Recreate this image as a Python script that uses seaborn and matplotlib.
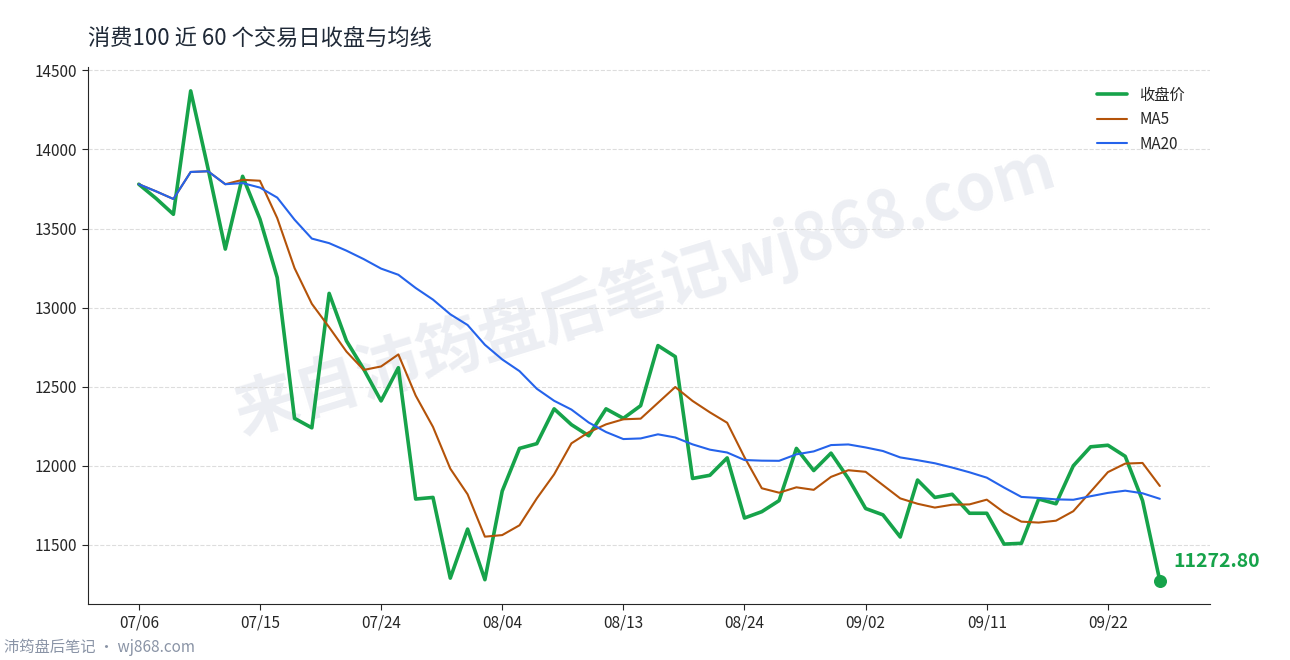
import matplotlib
matplotlib.use("Agg")
import matplotlib.pyplot as plt
import seaborn as sns
import pandas as pd

sns.set_style("white")
plt.rcParams['font.family'] = ['Noto Sans CJK SC', 'DejaVu Sans']

# close prices, 60 trading days
close = [13780, 13690, 13590, 14370, 13880, 13370, 13830, 13560, 13190, 12300,
         12240, 13090, 12790, 12610, 12410, 12620, 11790, 11800, 11290, 11600,
         11280, 11840, 12110, 12140, 12360, 12260, 12190, 12360, 12300, 12380,
         12760, 12690, 11920, 11940, 12050, 11670, 11710, 11780, 12110, 11970,
         12080, 11920, 11730, 11690, 11550, 11910, 11800, 11820, 11700, 11700,
         11505, 11510, 11790, 11760, 12000, 12120, 12130, 12060, 11780, 11272.80]
tick_labels = ["07/06", "07/15", "07/24", "08/04", "08/13", "08/24", "09/02", "09/11", "09/22"]

df = pd.DataFrame({"close": close})
df["idx"] = range(len(df))
df["ma5"] = df["close"].rolling(5, min_periods=1).mean()
df["ma20"] = df["close"].rolling(20, min_periods=1).mean()

fig = plt.figure(figsize=(12.9, 6.6), dpi=100)
ax = fig.add_axes([0.068, 0.085, 0.87, 0.813])
ax.patch.set_alpha(0)

sns.lineplot(data=df, x="idx", y="close", color="#16a34a", linewidth=2.6, label="收盘价", ax=ax)
sns.lineplot(data=df, x="idx", y="ma5", color="#b45309", linewidth=1.5, label="MA5", ax=ax)
sns.lineplot(data=df, x="idx", y="ma20", color="#2563eb", linewidth=1.5, label="MA20", ax=ax)

last = df.iloc[-1]
ax.scatter([last["idx"]], [last["close"]], color="#16a34a", s=70, zorder=5)
ax.annotate(f"{last['close']:.2f}", (last["idx"], last["close"]), xytext=(10, 10),
            textcoords="offset points", color="#16a34a", fontsize=14, fontweight="bold")

ax.set_xlim(-2.95, 61.9)
ax.set_ylim(11127, 14519)
ax.set_xticks(range(0, 60, 7))
ax.set_xticklabels(tick_labels, fontsize=11)
ax.set_yticks([11500, 12000, 12500, 13000, 13500, 14000, 14500])
ax.tick_params(axis="y", labelsize=11)
ax.tick_params(direction="out", length=4, left=True, bottom=True)
ax.grid(axis="y", linestyle="--", color="#dddddd", linewidth=0.8)
ax.set_xlabel("")
ax.set_ylabel("")
sns.despine(ax=ax)

ax.legend(loc="upper right", frameon=False, fontsize=11, bbox_to_anchor=(0.99, 0.99))

fig.text(0.068, 0.93, "消费100 近 60 个交易日收盘与均线", fontsize=16, color="#1f2937")
fig.text(0.5, 0.56, "来自沛筠盘后笔记wj868.com", fontsize=46, color="#eceef3",
         rotation=17, ha="center", va="center", fontweight="bold", zorder=-1,
         family=["Noto Sans CJK SC", "DejaVu Sans"])
fig.text(0.003, 0.012, "沛筠盘后笔记 · wj868.com", fontsize=11, color="#8a94a6")

fig.savefig("out.png", dpi=100)
